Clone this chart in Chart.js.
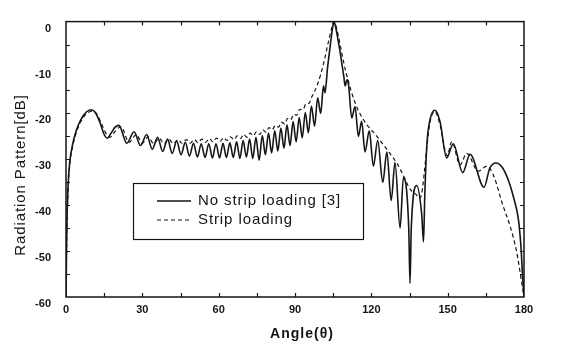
<!DOCTYPE html>
<html><head><meta charset="utf-8">
<script src="https://cdn.jsdelivr.net/npm/chart.js@4"></script>
<style>html,body{margin:0;padding:0;background:#fff}#wrap{width:577px;height:349px}</style>
</head><body><div id="wrap"><canvas id="c" width="577" height="349"></canvas></div>
<script>
const seriesLabels = ['No strip loading [3]', 'Strip loading'];
const xTitle = 'Angle(\u03b8)';
const yTitle = 'Radiation Pattern[dB]';
const xTickLabels = [0, 30, 60, 90, 120, 150, 180];
const yTickLabels = [0, -10, -20, -30, -40, -50, -60];

const solidAngles = [0,0.3,0.8,1.5,2.5,4,6,8,9.8,11.5,13.5,15,16.2,17.8,19.3,20.8,23.9,26.75,29.3,31.7,33.9,36.0,38.0,39.9,41.75,43.5,45.2,46.9,48.5,50.1,51.65,53.15,54.65,56.1,57.55,58.95,60.35,61.7,63.05,64.4,65.75,67.05,68.35,69.6,70.9,72.15,73.4,74.65,75.9,77.15,78.35,79.6,80.8,82.05,83.25,84.45,85.65,86.85,88.05,89.25,90.45,91.65,92.85,94.05,95.25,96.45,97.7,98.9,100.1,101.2,101.8,102.8,103.8,104.6,105.3,106.1,106.9,107.7,108.5,109.2,109.7,110.5,111.1,112.3,113.6,114.9,116.2,117.5,119.2,120.8,122.5,124.5,126.1,127.8,129.3,131.3,132.6,134.7,135.2,135.7,137.8,139.8,140.5,141.0,141.8,143.1,145.0,147.0,149.6,152.2,155.9,158.8,164.3,166.5,169.0,171.5,174.0,176.0,177.8,178.8,179.5,180];
const solidDb = [-60,-46,-36,-30.5,-27,-23.8,-21.2,-19.7,-19.2,-19.8,-22.2,-24.6,-25.4,-24.2,-23,-22.6,-26.5,-24.0,-27.0,-24.6,-27.8,-25.2,-28.3,-25.6,-28.7,-26.0,-29.0,-26.3,-29.3,-26.5,-29.5,-26.6,-29.6,-26.6,-29.7,-26.6,-29.7,-26.5,-29.6,-26.4,-29.6,-26.2,-29.8,-25.9,-29.5,-25.6,-29.8,-25.2,-30.2,-24.8,-29.0,-24.3,-28.6,-23.8,-28.2,-23.2,-27.6,-22.5,-27.0,-21.8,-26.2,-20.9,-25.3,-19.8,-24.2,-18.4,-22.8,-16.6,-20.0,-14.0,-15.5,-10.0,-5.5,-2.0,0,-1.5,-4.0,-6.5,-9.5,-12.0,-14.0,-12.6,-14.0,-21.0,-18.5,-25.0,-21.7,-28.4,-23.8,-31.5,-25.9,-35.0,-28.4,-39.0,-30.7,-45.0,-34.0,-45,-57,-45,-35.7,-42,-48,-38,-27.0,-21.3,-19.3,-21.8,-29.7,-26.6,-32.9,-28.9,-36.1,-32,-30.8,-31.8,-34.8,-38.5,-43.1,-49,-56,-60];

const stripAngles = [0,0.3,0.8,1.5,2.5,4,6,8,10.4,12.2,14.2,16,17.3,19,21.6,24.8,27.6,30,32.3,34.5,36.6,38.6,40.4,42.2,44,45.6,47.3,48.8,50.4,51.9,53.4,54.9,56.3,57.8,59.2,60.6,61.9,63.3,64.6,66.0,67.3,68.6,69.8,71.1,72.4,73.6,74.9,76.1,77.4,78.6,79.8,81.0,82.3,83.5,84.7,85.9,87.1,88.3,89.5,90.7,91.9,93.1,94.3,95.5,96.6,97.7,98.9,100.1,101.3,102.5,103.5,104.5,105.2,106.0,107.0,108.0,109.0,110.0,111.0,112.0,113.5,115.0,116.5,118.0,119.5,121.0,122.5,124.0,125.5,127.0,128.5,130.0,131.5,133.0,134.5,136.0,137.5,138.8,139.8,140.8,141.8,143.1,145.0,147.0,149.8,151.6,154.9,157.5,162.0,165.4,168.0,171.8,174.5,177.1,179.0,180];
const stripDb = [-60,-47,-37,-31,-27.5,-24.3,-21.6,-20.1,-19.5,-20.2,-22.6,-24.6,-25.2,-24.1,-22.9,-26.3,-24.6,-26.5,-25.1,-26.6,-25.4,-26.6,-25.6,-26.6,-25.7,-26.5,-25.7,-26.5,-25.7,-26.4,-25.6,-26.3,-25.5,-26.2,-25.4,-26.1,-25.3,-25.9,-25.1,-25.7,-24.9,-25.5,-24.6,-25.2,-24.3,-24.9,-24.0,-24.6,-23.6,-24.1,-23.1,-23.6,-22.6,-23.0,-21.9,-22.3,-21.1,-21.4,-20.2,-20.4,-19.1,-19.2,-17.9,-17.8,-16.4,-15.2,-13.6,-11.5,-9.0,-6.0,-3.5,-1.2,0,-0.8,-3.0,-5.8,-8.5,-11.0,-13.0,-15.0,-17.5,-19.5,-21.0,-22.3,-23.3,-24.2,-25.2,-26.3,-27.4,-28.5,-29.6,-30.8,-32.3,-34.0,-35.8,-37.0,-37.6,-38.5,-37.5,-33.0,-27.5,-21.8,-19.6,-22.5,-29.2,-26.2,-31.2,-28.7,-32.6,-31.5,-33.5,-40.2,-44.5,-50.1,-56.5,-60];

const toPts = (a, v) => a.map((x, i) => ({x: x, y: v[i]}));
const INK = '#151515';
const FONT = '"Liberation Sans", Arial, sans-serif';

const decor = {
  id: 'decor',
  afterDraw(chart) {
    const ctx = chart.ctx, a = chart.chartArea;
    const xs = chart.scales.x, ys = chart.scales.y;
    ctx.save();
    ctx.strokeStyle = INK;
    ctx.lineWidth = 1.5;
    ctx.strokeRect(a.left, a.top, a.right - a.left, a.bottom - a.top);
    ctx.lineWidth = 1.2;
    ctx.beginPath();
    for (let v = 15; v < 180; v += 15) {
      const p = Math.round(xs.getPixelForValue(v)) + 0.5;
      ctx.moveTo(p, a.bottom); ctx.lineTo(p, a.bottom - 4);
      ctx.moveTo(p, a.top); ctx.lineTo(p, a.top + 4);
    }
    for (let v = -55; v < 0; v += 5) {
      const p = Math.round(ys.getPixelForValue(v)) + 0.5;
      ctx.moveTo(a.left, p); ctx.lineTo(a.left + 4, p);
      ctx.moveTo(a.right, p); ctx.lineTo(a.right - 4, p);
    }
    ctx.stroke();

    // legend box
    const lx = 133.5, ly = 183.5, lw = 230, lh = 56;
    ctx.fillStyle = '#fff';
    ctx.fillRect(lx, ly, lw, lh);
    ctx.lineWidth = 1.2;
    ctx.strokeRect(lx, ly, lw, lh);
    const ds = chart.data.datasets;
    const rows = [201, 220];
    ds.forEach((d, i) => {
      ctx.beginPath();
      ctx.lineWidth = d.borderWidth;
      ctx.setLineDash(d.borderDash || []);
      ctx.moveTo(157, rows[i]); ctx.lineTo(191, rows[i]);
      ctx.stroke();
      ctx.setLineDash([]);
      ctx.fillStyle = INK;
      ctx.font = '15px ' + FONT;
      ctx.letterSpacing = '0.9px';
      ctx.textBaseline = 'middle';
      ctx.textAlign = 'left';
      ctx.fillText(d.label, 198, rows[i]);
    });

    // axis titles
    ctx.fillStyle = INK;
    ctx.letterSpacing = '1px';
    ctx.font = 'bold 14px ' + FONT;
    ctx.textAlign = 'center';
    ctx.textBaseline = 'middle';
    ctx.fillText(xTitle, 302, 334);
    ctx.translate(21, 175);
    ctx.rotate(-Math.PI / 2);
    ctx.letterSpacing = '0.9px';
    ctx.font = '15px ' + FONT;
    ctx.fillText(yTitle, 0, 0);
    ctx.restore();
  }
};

new Chart(document.getElementById('c'), {
  type: 'line',
  data: {
    datasets: [
      {label: seriesLabels[0], data: toPts(solidAngles, solidDb), borderColor: INK, borderWidth: 1.6,
       pointRadius: 0, cubicInterpolationMode: 'monotone', fill: false},
      {label: seriesLabels[1], data: toPts(stripAngles, stripDb), borderColor: INK, borderWidth: 1.2,
       borderDash: [4, 3], pointRadius: 0, cubicInterpolationMode: 'monotone', fill: false}
    ]
  },
  plugins: [decor],
  options: {
    responsive: false,
    animation: false,
    devicePixelRatio: 1,
    layout: {padding: {top: 12, right: 53, left: 0, bottom: 0}},
    plugins: {legend: {display: false}, tooltip: {enabled: false}, title: {display: false}},
    scales: {
      x: {
        type: 'linear', min: 0, max: 180,
        afterFit(s) { s.height = 52; },
        grid: {display: false, drawTicks: false},
        border: {display: false},
        ticks: {stepSize: 15, autoSkip: false, maxRotation: 0, padding: 6, color: INK,
          font: {family: FONT, size: 11, weight: 'bold'},
          callback: v => xTickLabels.includes(v) ? String(v) : ''}
      },
      y: {
        type: 'linear', min: -60, max: 0,
        afterFit(s) { s.width = 66; },
        grid: {display: false, drawTicks: false},
        border: {display: false},
        ticks: {stepSize: 5, autoSkip: false, padding: 15, labelOffset: 7, color: INK,
          font: {family: FONT, size: 11, weight: 'bold'},
          callback: v => yTickLabels.includes(v) ? String(v) : ''}
      }
    }
  }
});
</script>
</body></html>
